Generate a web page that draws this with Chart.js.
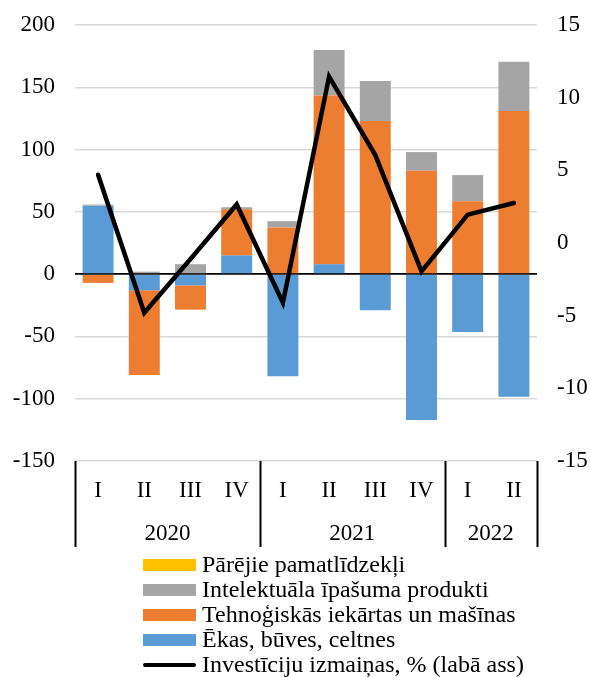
<!DOCTYPE html>
<html>
<head>
<meta charset="utf-8">
<script src="https://cdn.jsdelivr.net/npm/chart.js@4/dist/chart.umd.min.js"></script>
<style>
  body { margin: 0; background: #fff; font-family: "Liberation Serif", "Times New Roman", serif; }
  #wrap { position: relative; width: 590px; height: 677px; }
  #chartBox { position: absolute; left: 0; top: 0; width: 590px; height: 552px; }
  #legend { position: absolute; left: 143px; top: 552px; font-size: 24px; color: #000; }
  .item { display: flex; align-items: center; height: 25px; white-space: nowrap; }
  .sw { width: 53px; height: 12px; margin-right: 6px; }
  .ln { width: 53px; height: 4px; border-radius: 2px; background: #000; margin-right: 6px; }
</style>
</head>
<body>
<div id="wrap">
  <div id="chartBox"><canvas id="c"></canvas></div>
  <div id="legend"></div>
</div>
<script>
const quarters = ['I', 'II', 'III', 'IV', 'I', 'II', 'III', 'IV', 'I', 'II'];
const yearLabels = ['2020', '2021', '2022'];
const yearSpans = [4, 4, 2];

// bāzes (blue) -> orange -> gray -> yellow
const ekas = [55, -13, -9, 15, -82, 8, -29, -117, -46.5, -98.5];
const tehno = [-7, -68, -19.5, 37, 37.5, 135.5, 123, 83, 58.5, 131];
const intelekt = [0.8, 2, 8, 1.7, 5, 36.5, 32, 15, 21, 39.5];
const parejie = [0, 0, 0, 0, 0, 0, 0, 0, 0, 0];
const izmainas = [4.7, -4.8, -1.1, 2.65, -4.1, 11.45, 6.05, -1.95, 1.95, 2.75];

const FONT = { family: '"Liberation Serif", "Times New Roman", serif', size: 23 };

// gada grupas un atdalītāji zem x ass
const yearGroupsPlugin = {
  id: 'yearGroups',
  afterDraw(chart) {
    const xs = chart.scales.x;
    const ctx = chart.ctx;
    const w = (xs.right - xs.left) / quarters.length;
    const top = chart.chartArea.bottom;
    ctx.save();
    ctx.strokeStyle = '#000';
    ctx.lineWidth = 2;
    ctx.fillStyle = '#000';
    ctx.font = FONT.size + 'px ' + FONT.family;
    ctx.textAlign = 'center';
    ctx.textBaseline = 'middle';
    let start = 0;
    const bounds = [0];
    yearSpans.forEach((n, i) => {
      const cx = xs.left + (start + n / 2) * w;
      ctx.fillText(yearLabels[i], cx, top + 73);
      start += n;
      bounds.push(start);
    });
    bounds.forEach(b => {
      const bx = Math.round(xs.left + b * w) + 0.5;
      ctx.beginPath();
      ctx.moveTo(bx, top);
      ctx.lineTo(bx, top + 86);
      ctx.stroke();
    });
    ctx.restore();
  }
};

const barCommon = { type: 'bar', yAxisID: 'y', order: 1, borderWidth: 0, barPercentage: 0.67, categoryPercentage: 1 };

// vertikālajām asīm noņem automātisko augšas/apakšas atkāpi
function fitVertical(width) {
  return s => {
    s.width = width;
    s.paddingTop = 0;
    s.paddingBottom = 0;
  };
}

const chart = new Chart(document.getElementById('c'), {
  data: {
    labels: quarters,
    datasets: [
      Object.assign({ label: 'Ēkas, būves, celtnes', data: ekas, backgroundColor: '#5B9BD5' }, barCommon),
      Object.assign({ label: 'Tehnoģiskās iekārtas un mašīnas', data: tehno, backgroundColor: '#ED7D31' }, barCommon),
      Object.assign({ label: 'Intelektuāla īpašuma produkti', data: intelekt, backgroundColor: '#A5A5A5' }, barCommon),
      Object.assign({ label: 'Pārējie pamatlīdzekļi', data: parejie, backgroundColor: '#FFC000' }, barCommon),
      {
        type: 'line', label: 'Investīciju izmaiņas, % (labā ass)', data: izmainas, yAxisID: 'y1', order: 0,
        borderColor: '#000', borderWidth: 4.5, pointRadius: 0, tension: 0, fill: false,
        borderCapStyle: 'round', borderJoinStyle: 'miter'
      }
    ]
  },
  options: {
    responsive: true,
    maintainAspectRatio: false,
    animation: false,
    layout: { padding: { top: 25, left: 0, right: 0, bottom: 0 } },
    plugins: { legend: { display: false }, tooltip: { enabled: false } },
    scales: {
      x: {
        stacked: true,
        grid: { display: false, drawTicks: false },
        border: { display: false },
        ticks: { color: '#000', font: FONT, padding: 16, maxRotation: 0, autoSkip: false },
        afterFit(s) { s.height = 91; }
      },
      y: {
        stacked: true,
        position: 'left',
        min: -150, max: 200,
        ticks: { stepSize: 50, color: '#000', font: FONT, padding: 20 },
        grid: {
          drawTicks: false,
          color: c => (c.tick && c.tick.value === 0 ? '#000' : '#d9d9d9'),
          lineWidth: c => (c.tick && c.tick.value === 0 ? 1.8 : 1.5)
        },
        border: { display: false },
        afterFit: fitVertical(75)
      },
      y1: {
        position: 'right',
        min: -15, max: 15,
        ticks: { stepSize: 5, color: '#000', font: FONT, padding: 20 },
        grid: { drawOnChartArea: false, drawTicks: false },
        border: { display: false },
        afterFit: fitVertical(53)
      }
    }
  },
  plugins: [yearGroupsPlugin]
});

// leģenda
const legend = document.getElementById('legend');
const legendOrder = [3, 2, 1, 0, 4];
legendOrder.forEach(i => {
  const ds = chart.data.datasets[i];
  const row = document.createElement('div');
  row.className = 'item';
  const mark = document.createElement('div');
  if (ds.type === 'line') {
    mark.className = 'ln';
  } else {
    mark.className = 'sw';
    mark.style.background = ds.backgroundColor;
  }
  const txt = document.createElement('span');
  txt.textContent = ds.label;
  row.appendChild(mark);
  row.appendChild(txt);
  legend.appendChild(row);
});
</script>
</body>
</html>
